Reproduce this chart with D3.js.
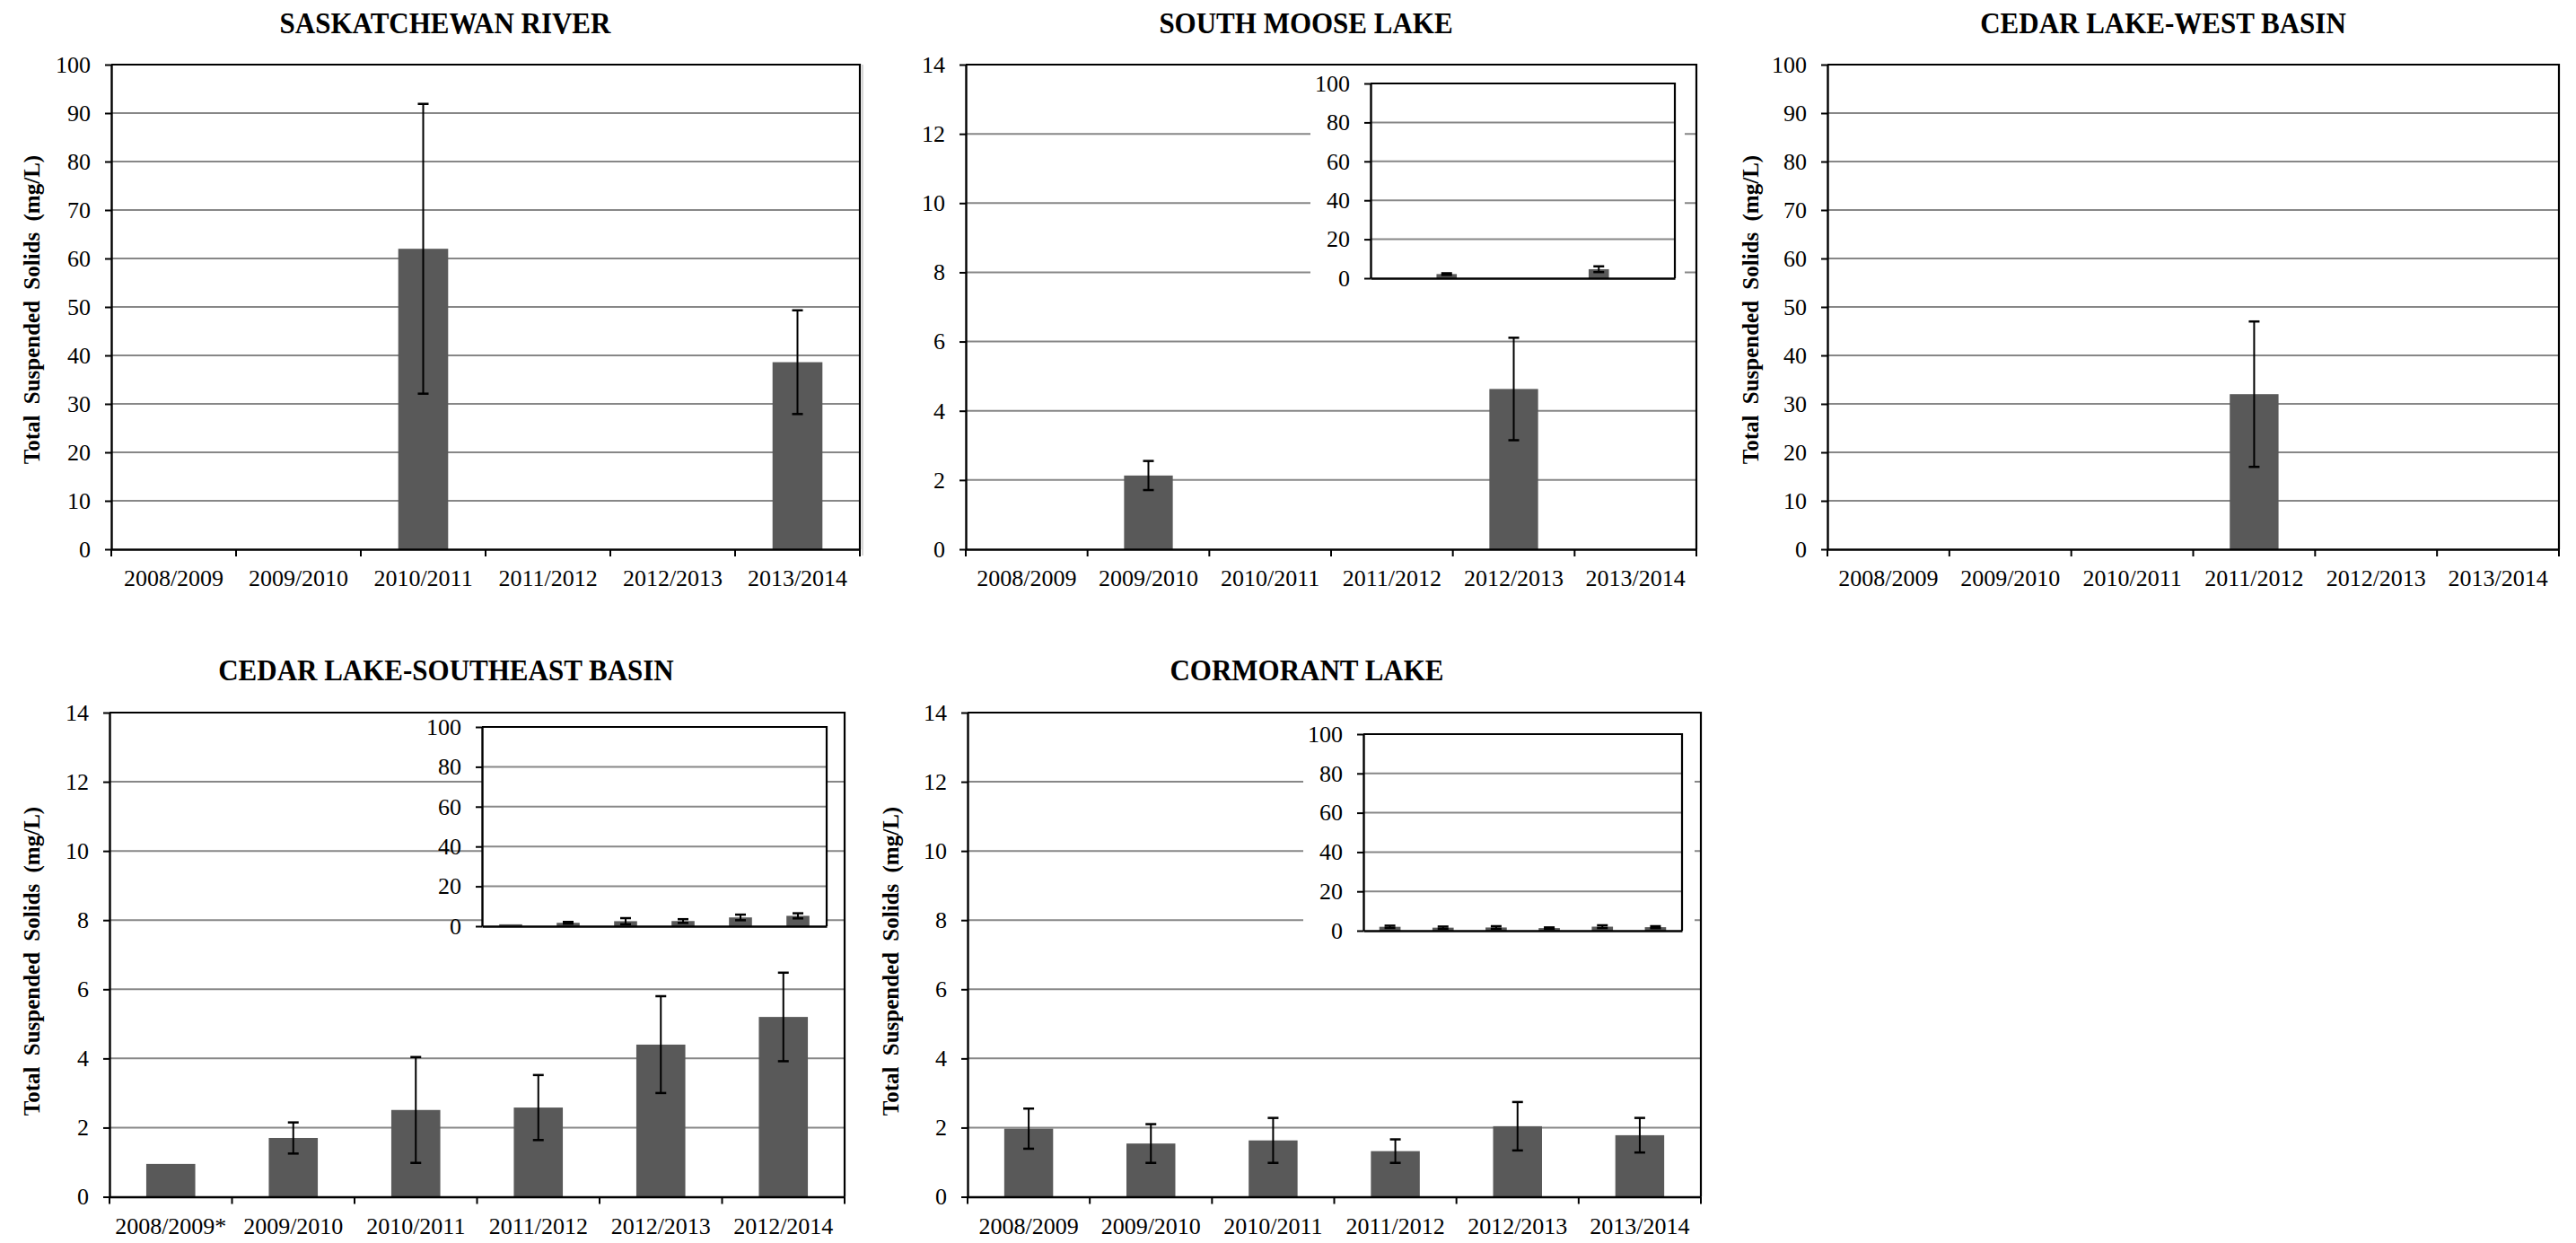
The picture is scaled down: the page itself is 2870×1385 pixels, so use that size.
<!DOCTYPE html>
<html>
<head>
<meta charset="utf-8">
<script src="https://cdn.jsdelivr.net/npm/d3@7"></script>
<style>
  html, body { margin: 0; padding: 0; background: #fff; }
  svg { display: block; }
  text { font-family: "Liberation Serif", "Times New Roman", serif; fill: #000; }
</style>
</head>
<body>
<svg id="fig" width="2870" height="1385"></svg>
<script>
// Sampling seasons
const seasons   = ["2008/2009", "2009/2010", "2010/2011", "2011/2012", "2012/2013", "2013/2014"];
const seasonsSE = ["2008/2009*", "2009/2010", "2010/2011", "2011/2012", "2012/2013", "2012/2014"];

// Mean total suspended solids (mg/L) and standard error per season (null = not sampled)
const saskMean   = [null, null, 62.0, null, null, 38.6];
const saskErr    = [null, null, 29.9, null, null, 10.7];
const mooseMean  = [null, 2.13, null, null, 4.63, null];
const mooseErr   = [null, 0.42, null, null, 1.48, null];
const westMean   = [null, null, null, 32.0, null, null];
const westErr    = [null, null, null, 15.0, null, null];
const seMean     = [0.95, 1.70, 2.51, 2.58, 4.40, 5.20];
const seErr      = [null, 0.45, 1.53, 0.94, 1.40, 1.28];
const cormMean   = [1.97, 1.54, 1.63, 1.32, 2.04, 1.78];
const cormErr    = [0.58, 0.56, 0.65, 0.34, 0.70, 0.50];

// Axis ticks
const ticks100   = [0, 10, 20, 30, 40, 50, 60, 70, 80, 90, 100];
const ticks14    = [0, 2, 4, 6, 8, 10, 12, 14];
const ticksInset = [0, 20, 40, 60, 80, 100];

// Text
const titles = ["SASKATCHEWAN RIVER", "SOUTH MOOSE LAKE", "CEDAR LAKE-WEST BASIN",
                "CEDAR LAKE-SOUTHEAST BASIN", "CORMORANT LAKE"];
const yTitle = "Total Suspended Solids (mg/L)";

const svg = d3.select("#fig");
const SERIF = '"Liberation Serif", "Times New Roman", serif';
const BAR = "#595959", GRID = "#878787";
const TICK_FONT = 26;

function panel(f, cats, means, errs, ticks, o) {
  const g = svg.append("g");
  const slot = d3.scaleBand().domain(cats).range([f.l, f.r]);
  const xb = d3.scaleBand().domain(cats).range([f.l, f.r]).paddingInner(0.6).paddingOuter(0.3);
  const top = d3.max(ticks);
  const y = d3.scaleLinear().domain([0, top]).range([f.b, f.t]);

  if (o.bg) {
    g.append("rect").attr("x", o.bg.x0).attr("y", o.bg.y0)
      .attr("width", o.bg.x1 - o.bg.x0).attr("height", o.bg.y1 - o.bg.y0).attr("fill", "#fff");
  }
  g.append("rect").attr("x", f.l).attr("y", f.t).attr("width", f.r - f.l).attr("height", f.b - f.t)
    .attr("fill", o.plotFill ? "#fff" : "none");

  // horizontal gridlines
  g.append("g").selectAll("line").data(ticks.filter(t => t > 0 && t < top)).join("line")
    .attr("x1", f.l).attr("x2", f.r)
    .attr("y1", d => y(d)).attr("y2", d => y(d))
    .attr("stroke", GRID).attr("stroke-width", 2);

  const rows = cats.map((c, i) => ({ c, v: means[i], e: errs[i] })).filter(d => d.v != null);

  // bars
  g.append("g").selectAll("rect").data(rows).join("rect")
    .attr("x", d => xb(d.c)).attr("y", d => y(d.v))
    .attr("width", xb.bandwidth()).attr("height", d => y(0) - y(d.v))
    .attr("fill", BAR);

  // error bars
  const cx = d => xb(d.c) + xb.bandwidth() / 2;
  const eg = g.append("g").attr("stroke", "#000");
  const eb = rows.filter(d => d.e != null);
  eg.selectAll("line.stem").data(eb).join("line").attr("class", "stem")
    .attr("x1", cx).attr("x2", cx)
    .attr("y1", d => y(d.v - d.e)).attr("y2", d => y(d.v + d.e)).attr("stroke-width", 2);
  ["lo", "hi"].forEach(k => {
    eg.selectAll("line.cap" + k).data(eb).join("line").attr("class", "cap" + k)
      .attr("x1", d => cx(d) - 6).attr("x2", d => cx(d) + 6)
      .attr("y1", d => y(k === "lo" ? d.v - d.e : d.v + d.e))
      .attr("y2", d => y(k === "lo" ? d.v - d.e : d.v + d.e))
      .attr("stroke-width", 2.5);
  });

  // frame top and right
  g.append("path").attr("d", `M${f.l},${f.t}H${f.r}V${f.b}`)
    .attr("fill", "none").attr("stroke", "#000").attr("stroke-width", 2.2);

  // y axis
  g.append("g").attr("transform", `translate(${f.l},0)`)
    .call(d3.axisLeft(y).tickValues(ticks).tickSize(7).tickSizeOuter(0).tickPadding(16))
    .attr("font-family", SERIF).attr("font-size", TICK_FONT)
    .call(a => a.select(".domain").attr("stroke-width", 2.4))
    .call(a => a.selectAll(".tick line").attr("stroke-width", 2));

  // x axis
  const xa = d3.axisBottom(slot).tickSize(0).tickSizeOuter(0).tickPadding(23);
  if (!o.xLabels) xa.tickFormat("");
  g.append("g").attr("transform", `translate(0,${f.b})`)
    .call(xa)
    .attr("font-family", SERIF).attr("font-size", TICK_FONT)
    .call(a => a.select(".domain").attr("stroke-width", 2.4));

  if (o.xLabels) {
    const bounds = cats.map(c => slot(c)).concat([f.r]);
    g.append("g").selectAll("line").data(bounds).join("line")
      .attr("x1", d => d).attr("x2", d => d)
      .attr("y1", f.b).attr("y2", f.b + 8)
      .attr("stroke", "#000").attr("stroke-width", 2);
  }
  return g;
}

function title(text, x, yb) {
  svg.append("text").attr("transform", `translate(${x},${yb}) scale(1,1.06)`)
    .attr("text-anchor", "middle")
    .attr("font-size", 31).attr("font-weight", "bold").text(text);
}

function yLabel(x, yc, clipX) {
  const t = svg.append("text")
    .attr("transform", `translate(${x},${yc}) rotate(-90)`)
    .attr("text-anchor", "middle").attr("font-size", 25).attr("font-weight", "bold")
    .style("word-spacing", "6px")
    .text(yTitle);
  if (clipX != null) {
    const id = "clip" + Math.round(x);
    svg.append("clipPath").attr("id", id)
      .append("rect").attr("x", clipX).attr("y", yc - 250).attr("width", 60).attr("height", 500);
    t.attr("clip-path", `url(#${id})`);
  }
}

// Saskatchewan River
panel({ l: 124, r: 958, t: 72, b: 612 }, seasons, saskMean, saskErr, ticks100, { xLabels: true });
title(titles[0], 496, 37);
yLabel(44, 345);

// South Moose Lake
svg.append("line").attr("x1", 961).attr("x2", 961).attr("y1", 72).attr("y2", 619)
  .attr("stroke", "#c8c8c8").attr("stroke-width", 1.5);
panel({ l: 1076, r: 1890, t: 72, b: 612 }, seasons, mooseMean, mooseErr, ticks14, { xLabels: true });
panel({ l: 1527, r: 1866, t: 93, b: 310 }, seasons, mooseMean, mooseErr, ticksInset,
      { xLabels: false, bg: { x0: 1460, x1: 1877, y0: 75, y1: 333 }, plotFill: true });
title(titles[1], 1455, 37);
yLabel(1004, 344, 991);

// Cedar Lake - West Basin
panel({ l: 2036, r: 2851, t: 72, b: 612 }, seasons, westMean, westErr, ticks100, { xLabels: true });
title(titles[2], 2410, 37);
yLabel(1959, 345);

// Cedar Lake - Southeast Basin
panel({ l: 122, r: 941, t: 794, b: 1333.5 }, seasonsSE, seMean, seErr, ticks14, { xLabels: true });
panel({ l: 537, r: 921, t: 810, b: 1032 }, seasonsSE, seMean, seErr, ticksInset,
      { xLabels: false, plotFill: true });
title(titles[3], 497, 758);
yLabel(44, 1071);

// Cormorant Lake
panel({ l: 1078, r: 1895, t: 794, b: 1333.5 }, seasons, cormMean, cormErr, ticks14, { xLabels: true });
panel({ l: 1519, r: 1874, t: 818, b: 1037 }, seasons, cormMean, cormErr, ticksInset,
      { xLabels: false, bg: { x0: 1452, x1: 1888, y0: 796, y1: 1060 }, plotFill: true });
title(titles[4], 1456, 758);
yLabel(1001, 1071);
</script>
</body>
</html>
